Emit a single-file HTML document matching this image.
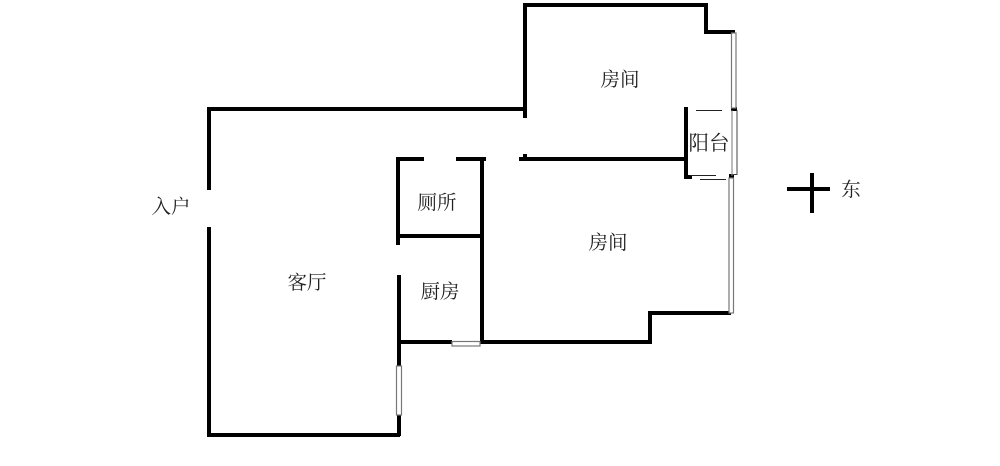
<!DOCTYPE html>
<html><head><meta charset="utf-8"><style>
html,body{margin:0;padding:0;background:#fff;width:1000px;height:466px;overflow:hidden}
svg{display:block}
text{font-family:"Liberation Serif","Noto Serif CJK SC",serif;font-size:19.500px;fill:#222;text-anchor:middle}
</style></head><body>
<svg width="1000" height="466" viewBox="0 0 1000 466">
<g fill="none" stroke="#000" stroke-width="4" stroke-linecap="butt">
<path d="M209 190V109H525"/>
<path d="M525 118V5H706V32H735"/>
<path d="M209 227V435H400"/>
<path d="M399 275V366M399 415V436"/>
<path d="M399 342H452M480 342H650V313H731"/>
<path d="M650 344V312"/>
<path d="M398 245V159H424M456 159H486"/>
<path d="M482 159V343"/>
<path d="M398 236H482"/>
<path d="M519 159H686"/>
<path d="M525 154V160"/>
<path d="M686 107V177H692"/>
<path d="M787 189H830M812 173V213"/>
<path d="M731 109H737M729 176H734"/>
</g>
<g fill="#fff" stroke="#777" stroke-width="1.2">
<rect x="731.5" y="33" width="4.500" height="75"/>
<rect x="729" y="178" width="4.500" height="135"/>
<rect x="396.500" y="366" width="5" height="49"/>
<rect x="452" y="341.500" width="28" height="4.500"/>
</g>
<g fill="none" stroke="#222" stroke-width="1">
<path d="M696 110.500H722M690 175.500H716M700 179.500H726"/>
<path d="M737 110V174.500H731" stroke="#444"/>
<path d="M732 110V176" stroke="#777"/>
</g>
<text x="620" y="86">房间</text>
<text x="709" y="150" style="font-size:20.500px">阳台</text>
<text x="608" y="249">房间</text>
<text x="437" y="209">厕所</text>
<text x="440" y="298">厨房</text>
<text x="307" y="289">客厅</text>
<text x="171" y="213">入户</text>
<text x="851" y="196">东</text>
</svg>
</body></html>
